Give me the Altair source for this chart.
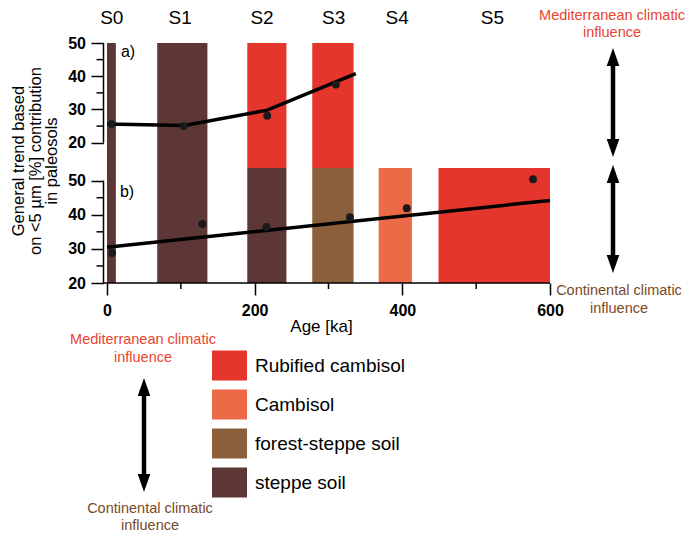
import altair as alt
import pandas as pd

FONT = "Liberation Sans"

# ---- data ----
soil_types = ["Rubified cambisol", "Cambisol", "forest-steppe soil", "steppe soil"]
soil_colors = ["#e4362d", "#ec6a48", "#8c5f3b", "#5c3735"]

a_start = [0, 68, 190, 278]
a_end = [12, 136, 243, 334]
a_soil = ["steppe soil", "steppe soil", "Rubified cambisol", "Rubified cambisol"]

b_start = [0, 68, 190, 278, 368, 449]
b_end = [12, 136, 243, 334, 413, 600]
b_soil = ["steppe soil", "steppe soil", "steppe soil", "forest-steppe soil",
          "Cambisol", "Rubified cambisol"]

stage_labels = ["S0", "S1", "S2", "S3", "S4", "S5"]
stage_pos = [6.5, 99, 210, 307, 393, 522]

a_pt_age = [6, 104, 217, 310]
a_pt_val = [25.6, 25.0, 28.1, 37.5]
a_trend_age = [0, 105, 217, 337]
a_trend_val = [25.6, 25.2, 29.8, 40.8]

b_pt_age = [7, 129, 216, 329, 406, 577]
b_pt_val = [28.8, 37.3, 36.4, 39.3, 41.9, 50.4]
b_trend_age = [0, 600]
b_trend_val = [30.5, 44.2]

y_major = [20, 30, 40, 50]
y_minor = [25, 35, 45]
y_span = [20, 50]
x_major = [0, 200, 400, 600]
x_minor = [100, 300, 500]

RED = "#e8442f"
BROWN = "#7a4a26"

# ---- layout ----
W, HA, HB = 443, 125, 115
OFF = 3.5
xs = alt.Scale(domain=[0, 600], nice=False, zero=False)
ya = alt.Scale(domain=[12.4, 50], nice=False, zero=False)
yb = alt.Scale(domain=[20, 53.7], nice=False, zero=False)

one = pd.DataFrame({"k": [0]})


def yaxis():
    return alt.Axis(values=y_major, tickSize=12.5, offset=OFF,
                    domain=False, grid=False, title=None, labelFontSize=16,
                    labelFontWeight="bold", labelFont=FONT, labelColor="black",
                    labelPadding=5.5, tickColor="black", tickWidth=1.5,
                    labelOverlap=False, labelFlush=False, labelBound=False)


xaxis = alt.Axis(values=x_major, tickSize=12, domain=False,
                 grid=False, labelFontSize=16, labelFontWeight="bold", labelFont=FONT,
                 labelColor="black", labelPadding=7, tickColor="black", tickWidth=1.5,
                 labelOverlap=False, labelFlush=False, labelBound=False,
                 title="Age [ka]", titleFont=FONT, titleFontSize=17, titleFontWeight="normal",
                 titleColor="black", titleX=214, titleY=43, titleBaseline="middle",
                 titleAlign="center")

legend = alt.Legend(title=None, orient="none", legendX=105, legendY=305,
                    symbolType="M-1,-0.857L1,-0.857L1,0.857L-1,0.857Z", symbolSize=1225,
                    symbolStrokeWidth=0, symbolOpacity=1, labelFontSize=19, labelFont=FONT,
                    labelColor="black", labelOffset=8, rowPadding=6, direction="vertical",
                    values=soil_types, padding=0)

color_enc = alt.Color("soil:N", scale=alt.Scale(domain=soil_types, range=soil_colors),
                      legend=legend)


def text_at(x, y, txt, size=15, color="black", weight="normal", angle=None, lh=None):
    kw = dict(font=FONT, fontSize=size, color=color, fontWeight=weight, align="center",
              baseline="middle")
    if angle is not None:
        kw["angle"] = angle
    if lh is not None:
        kw["lineHeight"] = lh
    return alt.Chart(one).mark_text(**kw).encode(x=alt.value(x), y=alt.value(y),
                                                 text=alt.value(txt))


def arrow(x, y_top, y_bot):
    shaft = alt.Chart(one).mark_rule(color="black", strokeWidth=4.5).encode(
        x=alt.value(x), y=alt.value(y_top + 10), y2=alt.value(y_bot - 10))
    up = alt.Chart(one).mark_point(shape="M-0.7,1L0,-1L0.7,1Z", size=324, filled=True,
                                   color="black", opacity=1, strokeWidth=0).encode(
        x=alt.value(x), y=alt.value(y_top + 9))
    down = alt.Chart(one).mark_point(shape="M-0.7,-1L0,1L0.7,-1Z", size=324, filled=True,
                                     color="black", opacity=1, strokeWidth=0).encode(
        x=alt.value(x), y=alt.value(y_bot - 9))
    return [shaft, up, down]


def y_frame(y_enc):
    dom = alt.Chart(pd.DataFrame({"val": [y_span[0]], "val2": [y_span[1]]})).mark_rule(
        color="black", strokeWidth=1.5).encode(x=alt.value(-OFF), y=y_enc, y2="val2:Q")
    minor = alt.Chart(pd.DataFrame({"val": y_minor})).mark_rule(
        color="black", strokeWidth=1.5).encode(
        x=alt.value(-OFF - 7), x2=alt.value(-OFF), y=y_enc)
    return [dom, minor]


# ---- panel a ----
df_rect_a = pd.DataFrame({"start": a_start, "end": a_end, "soil": a_soil})
df_pt_a = pd.DataFrame({"age": a_pt_age, "val": a_pt_val})
df_tr_a = pd.DataFrame({"age": a_trend_age, "val": a_trend_val})
df_stage = pd.DataFrame({"pos": stage_pos, "lab": stage_labels})

xa_enc = alt.X("age:Q", scale=xs, axis=None)
ya_enc = alt.Y("val:Q", scale=ya, axis=yaxis())

rect_a = alt.Chart(df_rect_a).mark_rect().encode(
    x=alt.X("start:Q", scale=xs, axis=None), x2="end:Q",
    y=alt.value(0), y2=alt.value(HA), color=color_enc)
line_a = alt.Chart(df_tr_a).mark_line(color="black", strokeWidth=3.5).encode(x=xa_enc, y=ya_enc)
pts_a = alt.Chart(df_pt_a).mark_circle(size=62, color="#1a1a1a", opacity=1).encode(
    x=xa_enc, y=ya_enc)
stages = alt.Chart(df_stage).mark_text(font=FONT, fontSize=19, color="black",
                                       baseline="middle").encode(
    x=alt.X("pos:Q", scale=xs, axis=None), y=alt.value(-25), text="lab:N")

top_layers = [rect_a] + y_frame(ya_enc) + [line_a, pts_a, stages,
              text_at(21, 8.5, "a)", size=16),
              text_at(-88, 118, ["General trend based", "on <5 µm [%] contribution",
                                 "in paleosols"], size=16.5, angle=270, lh=16.5),
              text_at(505, -27, "Mediterranean climatic", size=14.5, color=RED),
              text_at(505, -10, "influence", size=14.5, color=RED)]
top_layers += arrow(506, 5, 114)
top = alt.layer(*top_layers).properties(width=W, height=HA)

# ---- panel b ----
df_rect_b = pd.DataFrame({"start": b_start, "end": b_end, "soil": b_soil})
df_pt_b = pd.DataFrame({"age": b_pt_age, "val": b_pt_val})
df_tr_b = pd.DataFrame({"age": b_trend_age, "val": b_trend_val})

xb_enc = alt.X("age:Q", scale=xs, axis=xaxis)
yb_enc = alt.Y("val:Q", scale=yb, axis=yaxis())

rect_b = alt.Chart(df_rect_b).mark_rect().encode(
    x=alt.X("start:Q", scale=xs, axis=xaxis), x2="end:Q",
    y=alt.value(0), y2=alt.value(HB), color=color_enc)
line_b = alt.Chart(df_tr_b).mark_line(color="black", strokeWidth=3.5).encode(x=xb_enc, y=yb_enc)
pts_b = alt.Chart(df_pt_b).mark_circle(size=62, color="#1a1a1a", opacity=1).encode(
    x=xb_enc, y=yb_enc)
x_dom = alt.Chart(one).mark_rule(color="black", strokeWidth=1.5).encode(
    x=alt.value(-OFF), x2=alt.value(W), y=alt.value(HB))
x_min = alt.Chart(pd.DataFrame({"age": x_minor})).mark_rule(
    color="black", strokeWidth=1.5).encode(x=xb_enc, y=alt.value(HB), y2=alt.value(HB + 6))

bot_layers = [rect_b] + y_frame(yb_enc) + [x_dom, x_min, line_b, pts_b,
              text_at(20, 24, "b)", size=16),
              text_at(512, 123, "Continental climatic", size=14.5, color=BROWN),
              text_at(512, 141, "influence", size=14.5, color=BROWN),
              text_at(36, 172, "Mediterranean climatic", size=14.5, color=RED),
              text_at(36, 190, "influence", size=14.5, color=RED),
              text_at(43, 341, "Continental climatic", size=14.5, color=BROWN),
              text_at(43, 358, "influence", size=14.5, color=BROWN)]
bot_layers += arrow(506, -3, 105)
bot_layers += arrow(37, 210, 324)
bottom = alt.layer(*bot_layers).properties(width=W, height=HB)

chart = alt.vconcat(top, bottom, spacing=0, bounds="flush").configure_view(
    stroke=None).properties(padding={"left": 3, "top": 0, "right": 0, "bottom": 0})

chart.save("out.html", embed_options={"renderer": "svg", "actions": False})
